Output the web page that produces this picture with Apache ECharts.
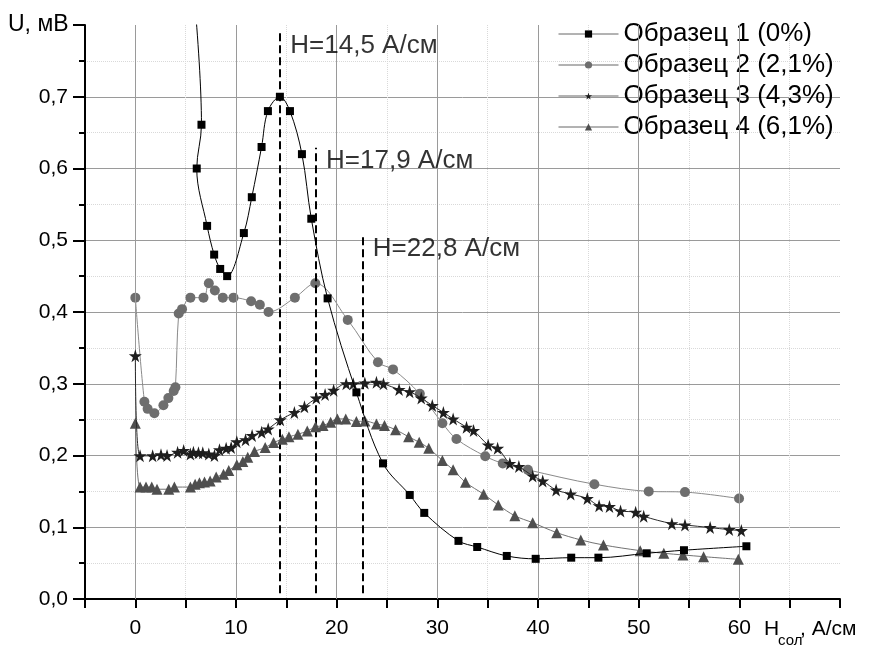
<!DOCTYPE html>
<html><head><meta charset="utf-8">
<script src="https://cdn.jsdelivr.net/npm/echarts@6/dist/echarts.min.js"></script>
<style>html,body{margin:0;padding:0;background:#fff}#c{width:869px;height:646px}</style>
</head><body><div id="c"></div>
<script>
const seriesNames = ['Образец 1 (0%)', 'Образец 2 (2,1%)', 'Образец 3 (4,3%)', 'Образец 4 (6,1%)'];

// Sample 1 (squares) - in curve order
const sample1 = [[5.1,0.95],[6.57,0.661],[6.1,0.600],[7.13,0.520],[7.83,0.480],[8.43,0.460],[9.12,0.450],
  [10.78,0.510],[11.57,0.560],[12.54,0.630],[13.17,0.680],[14.36,0.700],[15.36,0.680],[16.55,0.620],
  [17.48,0.530],[19.1,0.419],[21.96,0.288],[24.6,0.189],[27.26,0.145],[28.7,0.120],[32.1,0.081],
  [33.96,0.0725],[36.9,0.060],[39.77,0.056],[43.3,0.0576],[46.0,0.0576],[50.8,0.0637],[54.5,0.068],[60.7,0.0735]];

// Sample 2 (circles)
const sample2 = [[0,0.420],[0.9,0.275],[1.22,0.265],[1.89,0.259],[2.79,0.270],[3.28,0.280],[3.81,0.290],[3.98,0.295],
  [4.31,0.398],[4.64,0.404],[5.47,0.420],[6.77,0.420],[7.3,0.440],[7.9,0.430],[8.69,0.420],[9.75,0.420],
  [11.5,0.415],[12.37,0.410],[13.23,0.400],[15.85,0.420],[17.88,0.440],[21.1,0.389],[24.1,0.330],[25.6,0.320],
  [28.26,0.286],[30.5,0.245],[31.9,0.223],[34.76,0.199],[36.5,0.189],[39.0,0.180],[45.6,0.160],[51.0,0.150],
  [54.6,0.149],[59.97,0.140]];

// Sample 3 (stars)
const sample3 = [[0,0.339],[0.47,0.1995],[1.72,0.1995],[2.55,0.201],[3.15,0.200],[4.2,0.2045],[4.8,0.207],
  [5.47,0.202],[5.77,0.2045],[6.27,0.204],[6.7,0.204],[7.3,0.202],[7.86,0.200],[8.36,0.208],[9.02,0.210],
  [9.52,0.211],[10.08,0.219],[10.95,0.222],[11.6,0.228],[12.55,0.2325],[13.2,0.237],[14.4,0.2497],[15.8,0.260],
  [16.8,0.268],[17.98,0.280],[18.85,0.285],[19.7,0.291],[20.95,0.300],[21.65,0.300],[22.8,0.301],[23.95,0.302],
  [24.65,0.300],[26.2,0.292],[27.25,0.289],[28.4,0.280],[29.5,0.2697],[30.6,0.260],[31.57,0.251],[32.9,0.2395],
  [33.6,0.2348],[35.05,0.2148],[35.99,0.210],[37.2,0.189],[38.1,0.1845],[39.47,0.1715],[40.47,0.1646],
  [41.8,0.152],[43.25,0.1464],[44.9,0.140],[46.07,0.130],[47.1,0.1288],[48.2,0.1227],[49.7,0.121],
  [50.5,0.1153],[53.3,0.105],[54.6,0.1032],[57.1,0.0995],[59.0,0.0967],[60.2,0.0953]];

// Sample 4 (triangles)
const sample4 = [[0,0.245],[0.47,0.156],[1.06,0.156],[1.63,0.156],[2.15,0.153],[3.32,0.153],[3.88,0.156],
  [5.47,0.156],[5.94,0.160],[6.37,0.162],[6.87,0.163],[7.43,0.1646],[8.03,0.170],[8.76,0.174],[9.28,0.179],
  [10.08,0.187],[10.68,0.1915],[11.17,0.1976],[11.84,0.2055],[12.9,0.211],[13.73,0.218],[14.6,0.2227],
  [15.26,0.226],[16.15,0.2297],[17.08,0.234],[17.9,0.240],[18.64,0.2417],[19.4,0.2464],[20.07,0.251],
  [20.9,0.251],[21.96,0.2473],[22.8,0.248],[23.95,0.244],[24.75,0.2417],[25.85,0.236],[27.15,0.226],
  [28.2,0.2185],[29.15,0.210],[30.5,0.193],[31.57,0.180],[32.8,0.1627],[34.6,0.146],[36.05,0.131],
  [37.7,0.116],[39.47,0.1064],[41.86,0.0925],[44.25,0.0823],[46.5,0.0753],[50.15,0.0674],[52.5,0.0637],
  [54.4,0.0614],[56.45,0.059],[59.9,0.0553]];

const xMajorTicks = [0, 10, 20, 30, 40, 50, 60];
const markerLinesX = [14.35, 17.9, 22.55];
const markerLinesTop = [0.789, 0.629, 0.506];
const markerLabels = ['H=14,5 А/см', 'H=17,9 А/см', 'H=22,8 А/см'];

const FONT = "'Liberation Sans', Arial, sans-serif";
const STAR = 'path://M50,0 L61,35 L98,35 L68,57 L79,91 L50,70 L21,91 L32,57 L2,35 L39,35 Z';

const chart = echarts.init(document.getElementById('c'), null, {renderer: 'canvas'});

function dataSeries(name, data, symbol, size, fill, lineColor, z) {
  return {
    type: 'line', name: name, data: data, smooth: 0.35, symbol: symbol, symbolSize: size,
    showSymbol: true, showAllSymbol: true, clip: true, z: z,
    itemStyle: {color: fill, borderWidth: 0},
    lineStyle: {color: lineColor, width: 1},
    emphasis: {disabled: true}
  };
}

const option = {
  animation: false,
  backgroundColor: '#fff',
  textStyle: {fontFamily: FONT},
  grid: {left: 85, right: 29, top: 25, bottom: 47},
  legend: {
    orient: 'vertical', left: 553, top: 16, itemWidth: 60, itemHeight: 9, itemGap: 5,
    textStyle: {fontSize: 26, color: '#000', fontFamily: FONT},
    lineStyle: {width: 1, color: '#666'},
    data: seriesNames, selectedMode: false
  },
  xAxis: {
    type: 'value', min: -5, max: 70, interval: 5,
    axisLine: {show: true, onZero: false, lineStyle: {color: '#000', width: 2}},
    axisTick: {show: true, inside: false, length: 9, lineStyle: {color: '#000', width: 2}},
    axisLabel: {show: true, margin: 19, fontSize: 21, color: '#000', fontFamily: FONT,
      showMinLabel: true, showMaxLabel: true,
      formatter: v => (xMajorTicks.indexOf(v) >= 0 ? String(v) : '')},
    splitLine: {show: true, showMinLine: false, showMaxLine: false, lineStyle: {color: '#d9d9d9', type: 'dotted', width: 1}}
  },
  yAxis: {
    type: 'value', min: 0, max: 0.8, interval: 0.1,
    axisLine: {show: true, onZero: false, lineStyle: {color: '#000', width: 2}},
    axisTick: {show: true, inside: false, length: 12, lineStyle: {color: '#000', width: 2}},
    minorTick: {show: true, splitNumber: 2, length: 6, lineStyle: {color: '#000', width: 2}},
    axisLabel: {margin: 17, fontSize: 21, color: '#000', fontFamily: FONT,
      showMinLabel: true, showMaxLabel: true,
      formatter: v => (Math.abs(v - 0.8) < 1e-6 ? '' : v.toFixed(1).replace('.', ','))},
    splitLine: {show: true, showMinLine: false, showMaxLine: false, lineStyle: {color: '#9a9a9a', width: 1}},
    minorSplitLine: {show: true, lineStyle: {color: '#d9d9d9', type: 'dotted', width: 1}}
  },
  graphic: [
    {type: 'text', left: 8, top: 13, silent: true,
      style: {text: 'U, мВ', fontSize: 23, fill: '#000', fontFamily: FONT}},
    {type: 'text', left: 764, top: 619, silent: true,
      style: {text: 'H', fontSize: 21, fill: '#000', fontFamily: FONT}},
    {type: 'text', left: 778, top: 633, silent: true,
      style: {text: 'сол', fontSize: 15, fill: '#000', fontFamily: FONT}},
    {type: 'text', left: 800, top: 619, silent: true,
      style: {text: ', А/см', fontSize: 21, fill: '#000', fontFamily: FONT}}
  ],
  series: [
    {
      type: 'line', name: 'gridMajor', data: [], z: 1, silent: true,
      markLine: {
        silent: true, symbol: ['none', 'none'], animation: false,
        label: {show: false},
        lineStyle: {color: '#9a9a9a', type: 'solid', width: 1},
        emphasis: {disabled: true},
        data: xMajorTicks.map(v => ({xAxis: v}))
      }
    },
    {
      type: 'line', name: 'vlines', data: [], z: 3, silent: true,
      markLine: {
        silent: true, symbol: ['none', 'none'], animation: false,
        label: {show: false},
        lineStyle: {color: '#000', type: [8, 4], width: 2},
        emphasis: {disabled: true},
        data: markerLinesX.map((x, i) => [{coord: [x, 0.008]}, {coord: [x, markerLinesTop[i]]}])
      }
    },
    {
      type: 'scatter', name: 'vlineLabels', z: 8, silent: true,
      symbolSize: 1, itemStyle: {color: 'rgba(0,0,0,0)'},
      data: markerLinesX.map((x, i) => [x, markerLinesTop[i]]),
      label: {show: true, position: 'right', distance: 10, offset: [0, 13],
        fontSize: 26, color: '#000', fontFamily: FONT,
        formatter: p => markerLabels[p.dataIndex]}
    },
    dataSeries(seriesNames[0], sample1, 'rect', 8, '#000', '#000', 7),
    dataSeries(seriesNames[1], sample2, 'circle', 10, '#6e6e6e', '#8a8a8a', 4),
    dataSeries(seriesNames[2], sample3, STAR, 13, '#1e1e1e', '#2a2a2a', 6),
    dataSeries(seriesNames[3], sample4, 'triangle', 11, '#4f4f4f', '#727272', 5)
  ]
};
chart.setOption(option);
</script>
</body></html>
